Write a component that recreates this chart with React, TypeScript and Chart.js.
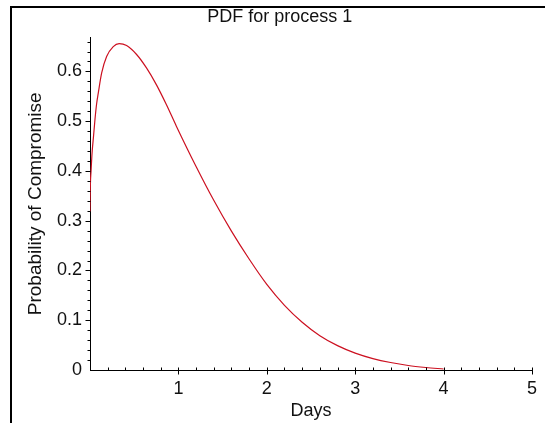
import React, { useEffect, useRef } from 'react';
import { Chart, registerables } from 'chart.js';

Chart.register(...registerables);

const TITLE = 'PDF for process 1';
const X_TITLE = 'Days';
const Y_TITLE = 'Probability of Compromise';

const days = [
  0, 0.004, 0.012, 0.025, 0.04, 0.056, 0.075, 0.094, 0.132, 0.188, 0.263, 0.33,
  0.414, 0.527, 0.639, 0.752, 0.865, 0.977, 1.2, 1.4, 1.6, 1.8, 2.0, 2.2,
  2.4, 2.6, 2.8, 3.0, 3.2, 3.4, 3.6, 3.8, 4.0,
];
const probability = [
  0.318, 0.37, 0.4, 0.44, 0.47, 0.503, 0.535, 0.557, 0.597, 0.63, 0.65, 0.656,
  0.652, 0.634, 0.607, 0.573, 0.533, 0.49, 0.409, 0.341, 0.279, 0.223, 0.172, 0.13,
  0.096, 0.069, 0.049, 0.034, 0.023, 0.015, 0.009, 0.005, 0.002,
];

const xTickValues = [1, 2, 3, 4, 5];
const yTickValues = [0, 0.1, 0.2, 0.3, 0.4, 0.5, 0.6];
const xMinorStep = 0.2;
const yMinorStep = 0.02;
const X_MIN = 0;
const X_MAX = 5;
const Y_MIN = 0;
const Y_MAX = 0.668;

const FONT = "'Liberation Sans', Arial, Helvetica, sans-serif";

const framePlugin = {
  id: 'frame',
  beforeDraw(chart: any) {
    const { ctx, width, height } = chart;
    ctx.save();
    ctx.fillStyle = '#ffffff';
    ctx.fillRect(0, 0, width, height);
    ctx.fillStyle = '#000000';
    ctx.fillRect(10, 6, width - 10, 2);
    ctx.fillRect(10, 6, 2, height - 6);
    ctx.restore();
  },
};

const tickPlugin = {
  id: 'mapleTicks',
  afterDraw(chart: any) {
    const { ctx, chartArea } = chart;
    const xs = chart.scales.x;
    const ys = chart.scales.y;
    const ax = Math.round(chartArea.left) + 0.5;
    const ay = Math.round(chartArea.bottom) + 0.5;
    ctx.save();
    ctx.strokeStyle = '#000000';
    ctx.lineWidth = 1;
    ctx.beginPath();
    const ny = Math.floor((Y_MAX - Y_MIN) / yMinorStep + 1e-6);
    for (let i = 1; i <= ny; i++) {
      const v = Y_MIN + i * yMinorStep;
      const py = Math.round(ys.getPixelForValue(v)) + 0.5;
      const major = i % 5 === 0;
      ctx.moveTo(ax - (major ? 5 : 3), py);
      ctx.lineTo(ax, py);
    }
    const nx = Math.round((X_MAX - X_MIN) / xMinorStep);
    for (let i = 1; i <= nx; i++) {
      const v = X_MIN + i * xMinorStep;
      const px = Math.round(xs.getPixelForValue(v)) + 0.5;
      const major = i % 5 === 0;
      ctx.moveTo(px, ay - 3);
      ctx.lineTo(px, ay + (major ? 4 : 0));
    }
    ctx.stroke();
    ctx.restore();
  },
};

export default function App() {
  const canvasRef = useRef<HTMLCanvasElement | null>(null);

  useEffect(() => {
    const canvas = canvasRef.current;
    if (!canvas) return;
    const chart = new Chart(canvas, {
      type: 'line',
      data: {
        datasets: [
          {
            data: days.map((d, i) => ({ x: d, y: probability[i] })),
            borderColor: '#cc1020',
            borderWidth: 1.2,
            pointRadius: 0,
            fill: false,
            cubicInterpolationMode: 'monotone',
          },
        ],
      },
      options: {
        responsive: false,
        animation: false,
        events: [],
        layout: { padding: { left: 26, right: 11.5, top: 0, bottom: 0 } },
        plugins: {
          legend: { display: false },
          tooltip: { enabled: false },
          title: {
            display: true,
            text: TITLE,
            color: '#111111',
            font: { family: FONT, size: 18, weight: 'normal' },
            padding: { top: 6, bottom: 10 },
          },
        },
        scales: {
          x: {
            type: 'linear',
            min: X_MIN,
            max: X_MAX,
            grid: { display: false, drawTicks: false },
            border: { display: true, color: '#000000', width: 1 },
            afterBuildTicks: (scale: any) => {
              scale.ticks = xTickValues.map((v) => ({ value: v }));
            },
            afterFit: (scale: any) => {
              scale.height = 53;
            },
            ticks: {
              color: '#111111',
              font: { family: FONT, size: 18 },
              padding: 8,
              maxRotation: 0,
              autoSkip: false,
              callback: (v: any) => String(v),
            },
            title: {
              display: true,
              text: X_TITLE,
              color: '#111111',
              font: { family: FONT, size: 18 },
              padding: { top: 0, bottom: 1 },
            },
          },
          y: {
            type: 'linear',
            min: Y_MIN,
            max: Y_MAX,
            grid: { display: false, drawTicks: false },
            border: { display: true, color: '#000000', width: 1 },
            afterBuildTicks: (scale: any) => {
              scale.ticks = yTickValues.map((v) => ({ value: v }));
            },
            afterFit: (scale: any) => {
              scale.width = 64;
            },
            ticks: {
              color: '#111111',
              font: { family: FONT, size: 18 },
              padding: 8,
              autoSkip: false,
              callback: (v: any) => (v === 0 ? '0' : Number(v).toFixed(1)),
            },
            title: {
              display: true,
              text: Y_TITLE,
              color: '#111111',
              font: { family: FONT, size: 19, lineHeight: 1 },
              padding: { top: 0, bottom: 0 },
            },
          },
        },
      },
      plugins: [framePlugin, tickPlugin],
    } as any);
    return () => chart.destroy();
  }, []);

  return (
    <div style={{ position: 'absolute', left: 0, top: 0, width: 545, height: 423 }}>
      <canvas ref={canvasRef} width={545} height={423} style={{ width: 545, height: 423, display: 'block' }} />
    </div>
  );
}
